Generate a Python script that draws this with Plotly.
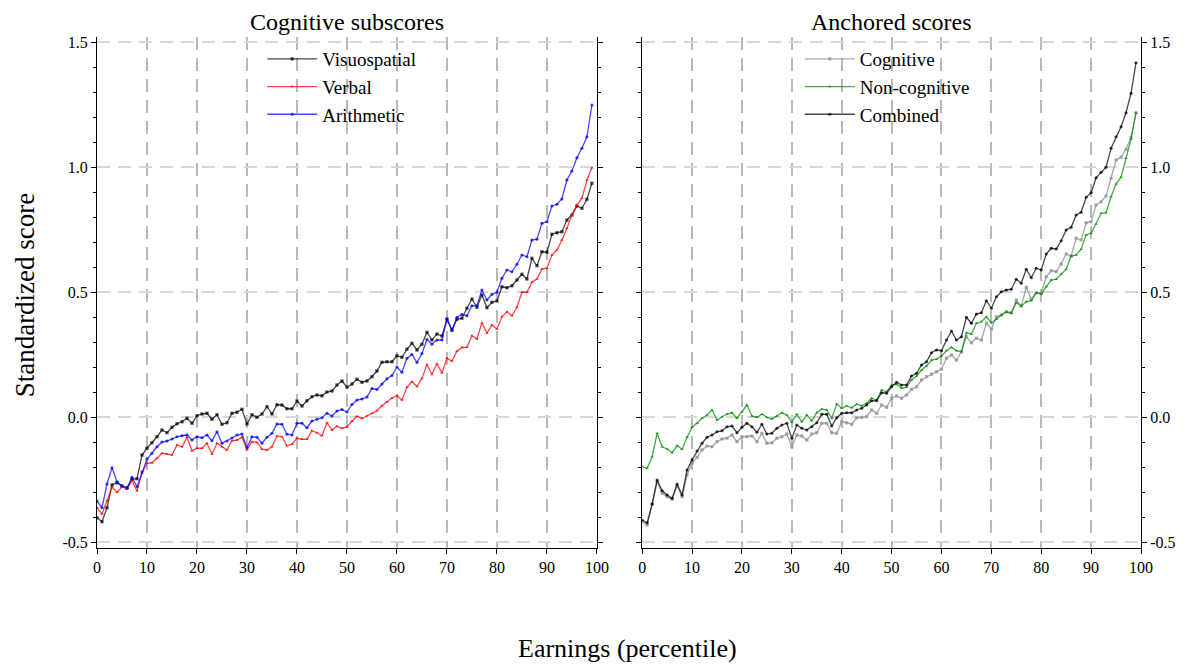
import plotly.graph_objects as go

# ---------------- data ----------------
percentile = list(range(100))

visuospatial = [
    -0.403, -0.419, -0.363, -0.272, -0.263, -0.276, -0.283, -0.249, -0.247, -0.152,
    -0.125, -0.103, -0.079, -0.052, -0.063, -0.041, -0.027, -0.019, -0.005, -0.025,
    0.005, 0.012, 0.015, -0.009, 0.009, -0.029, -0.023, 0.015, 0.019, 0.031,
    -0.028, 0.009, -0.001, 0.012, 0.041, 0.012, 0.049, 0.048, 0.033, 0.033,
    0.064, 0.044, 0.065, 0.081, 0.088, 0.085, 0.100, 0.104, 0.128, 0.144,
    0.119, 0.132, 0.151, 0.139, 0.144, 0.161, 0.184, 0.219, 0.221, 0.221,
    0.245, 0.239, 0.271, 0.295, 0.268, 0.291, 0.339, 0.308, 0.332, 0.324,
    0.391, 0.348, 0.391, 0.395, 0.435, 0.472, 0.439, 0.488, 0.437, 0.459,
    0.464, 0.521, 0.517, 0.525, 0.548, 0.571, 0.552, 0.635, 0.605, 0.661,
    0.659, 0.731, 0.737, 0.741, 0.788, 0.808, 0.844, 0.835, 0.871, 0.935,
]

verbal = [
    -0.363, -0.388, -0.335, -0.281, -0.301, -0.279, -0.289, -0.255, -0.296, -0.225,
    -0.185, -0.183, -0.165, -0.145, -0.148, -0.152, -0.112, -0.119, -0.081, -0.135,
    -0.125, -0.125, -0.105, -0.149, -0.105, -0.119, -0.132, -0.095, -0.092, -0.081,
    -0.132, -0.099, -0.101, -0.129, -0.132, -0.119, -0.076, -0.079, -0.115, -0.109,
    -0.085, -0.089, -0.089, -0.055, -0.063, -0.075, -0.023, -0.052, -0.037, -0.045,
    -0.040, -0.017, 0.003, -0.006, 0.004, 0.015, 0.025, 0.045, 0.059, 0.076,
    0.085, 0.068, 0.119, 0.141, 0.122, 0.154, 0.210, 0.170, 0.213, 0.176,
    0.235, 0.224, 0.263, 0.278, 0.279, 0.325, 0.312, 0.377, 0.335, 0.368,
    0.352, 0.401, 0.421, 0.405, 0.439, 0.499, 0.499, 0.539, 0.552, 0.592,
    0.595, 0.648, 0.668, 0.708, 0.755, 0.808, 0.848, 0.875, 0.948, 0.997,
]

arithmetic = [
    -0.336, -0.363, -0.268, -0.203, -0.259, -0.276, -0.285, -0.241, -0.279, -0.219,
    -0.168, -0.145, -0.119, -0.100, -0.096, -0.088, -0.079, -0.075, -0.072, -0.092,
    -0.079, -0.083, -0.072, -0.095, -0.059, -0.105, -0.096, -0.084, -0.072, -0.068,
    -0.123, -0.079, -0.081, -0.105, -0.081, -0.065, -0.028, -0.029, -0.069, -0.072,
    -0.025, -0.025, -0.043, -0.016, -0.009, -0.003, 0.015, 0.004, 0.024, 0.030,
    0.020, 0.050, 0.068, 0.072, 0.080, 0.114, 0.110, 0.132, 0.153, 0.166,
    0.200, 0.179, 0.235, 0.250, 0.218, 0.254, 0.310, 0.291, 0.308, 0.308,
    0.393, 0.346, 0.399, 0.410, 0.405, 0.445, 0.445, 0.508, 0.468, 0.491,
    0.499, 0.555, 0.588, 0.581, 0.611, 0.648, 0.641, 0.708, 0.711, 0.775,
    0.781, 0.844, 0.851, 0.872, 0.948, 0.984, 1.037, 1.075, 1.121, 1.248,
]

cognitive = [
    -0.419, -0.432, -0.348, -0.259, -0.305, -0.319, -0.329, -0.276, -0.319, -0.232,
    -0.185, -0.161, -0.132, -0.116, -0.119, -0.099, -0.088, -0.085, -0.072, -0.099,
    -0.079, -0.079, -0.076, -0.099, -0.065, -0.105, -0.103, -0.085, -0.079, -0.068,
    -0.119, -0.072, -0.076, -0.092, -0.068, -0.063, -0.025, -0.025, -0.063, -0.065,
    -0.019, -0.023, -0.029, -0.003, -0.001, 0.001, 0.028, 0.015, 0.048, 0.039,
    0.075, 0.084, 0.075, 0.088, 0.111, 0.121, 0.148, 0.161, 0.171, 0.181,
    0.191, 0.235, 0.248, 0.228, 0.261, 0.321, 0.297, 0.315, 0.308, 0.375,
    0.351, 0.401, 0.408, 0.421, 0.417, 0.468, 0.444, 0.519, 0.471, 0.497,
    0.495, 0.561, 0.585, 0.581, 0.612, 0.652, 0.644, 0.715, 0.708, 0.777,
    0.781, 0.848, 0.861, 0.884, 0.955, 1.028, 1.039, 1.071, 1.119, 1.217,
]

non_cognitive = [
    -0.199, -0.205, -0.159, -0.065, -0.119, -0.128, -0.143, -0.115, -0.129, -0.081,
    -0.041, -0.025, -0.005, 0.008, 0.028, -0.012, 0.001, 0.012, 0.017, -0.005,
    0.021, 0.048, 0.004, -0.001, 0.011, -0.001, -0.008, 0.004, 0.017, 0.008,
    -0.021, 0.011, -0.019, 0.008, -0.015, 0.017, 0.032, 0.028, -0.005, 0.052,
    0.035, 0.044, 0.037, 0.051, 0.045, 0.055, 0.075, 0.068, 0.108, 0.101,
    0.128, 0.131, 0.115, 0.119, 0.148, 0.164, 0.188, 0.204, 0.228, 0.231,
    0.244, 0.265, 0.279, 0.265, 0.261, 0.337, 0.332, 0.375, 0.381, 0.401,
    0.377, 0.391, 0.408, 0.420, 0.415, 0.457, 0.444, 0.461, 0.465, 0.497,
    0.492, 0.521, 0.548, 0.551, 0.572, 0.591, 0.644, 0.648, 0.671, 0.728,
    0.735, 0.772, 0.815, 0.817, 0.881, 0.932, 0.959, 1.035, 1.111, 1.217,
]

combined = [
    -0.412, -0.423, -0.348, -0.252, -0.295, -0.312, -0.325, -0.268, -0.312, -0.212,
    -0.172, -0.136, -0.105, -0.081, -0.072, -0.059, -0.055, -0.039, -0.036, -0.063,
    -0.041, -0.025, -0.039, -0.061, -0.029, -0.068, -0.065, -0.045, -0.032, -0.025,
    -0.085, -0.032, -0.045, -0.052, -0.039, -0.023, 0.011, 0.011, -0.036, -0.003,
    0.015, 0.017, 0.017, 0.028, 0.035, 0.048, 0.065, 0.065, 0.097, 0.095,
    0.121, 0.139, 0.128, 0.128, 0.164, 0.175, 0.208, 0.221, 0.257, 0.268,
    0.265, 0.308, 0.344, 0.308, 0.321, 0.399, 0.375, 0.412, 0.417, 0.465,
    0.435, 0.481, 0.501, 0.508, 0.511, 0.551, 0.535, 0.591, 0.557, 0.595,
    0.588, 0.652, 0.675, 0.672, 0.705, 0.748, 0.759, 0.808, 0.819, 0.879,
    0.897, 0.957, 0.979, 0.999, 1.075, 1.121, 1.161, 1.217, 1.295, 1.417,
]

x_ticks = [0, 10, 20, 30, 40, 50, 60, 70, 80, 90, 100]
y_ticks = [-0.5, 0.0, 0.5, 1.0, 1.5]
y_ticktext = ["-0.5", "0.0", "0.5", "1.0", "1.5"]

# ---------------- figure ----------------
OFF = 8  # page body margin
W, H = 1189 - OFF, 666 - OFF
# plot area in page pixels
P_LEFT, P_RIGHT, P_TOP, P_BOTTOM = 96.7, 1141.5, 37, 548
L = P_LEFT - OFF
R = W - (P_RIGHT - OFF)
T = P_TOP - OFF
B = H - (P_BOTTOM - OFF)
PW, PH = W - L - R, H - T - B


def px_x(px):  # page px -> paper x
    return (px - P_LEFT) / PW


def px_y(py):  # page px -> paper y
    return 1 - (py - P_TOP) / PH


FONT = "Liberation Serif"

fig = go.Figure()

left_series = [
    ("Visuospatial", visuospatial, "rgba(0,0,0,0.72)", "square"),
    ("Verbal", verbal, "rgba(255,0,0,0.72)", "triangle-up"),
    ("Arithmetic", arithmetic, "rgba(0,0,255,0.72)", "circle"),
]
right_series = [
    ("Cognitive", cognitive, "rgba(150,150,150,0.85)", "square"),
    ("Non-cognitive", non_cognitive, "rgba(0,140,0,0.72)", "triangle-up"),
    ("Combined", combined, "rgba(0,0,0,0.72)", "circle"),
]

for name, vals, col, sym in left_series:
    fig.add_trace(go.Scatter(
        x=percentile, y=vals, name=name, mode="lines+markers",
        line=dict(color=col, width=1.3),
        marker=dict(symbol=sym, size=3.2, color=col),
        xaxis="x", yaxis="y", legend="legend",
    ))
for name, vals, col, sym in right_series:
    fig.add_trace(go.Scatter(
        x=percentile, y=vals, name=name, mode="lines+markers",
        line=dict(color=col, width=1.3),
        marker=dict(symbol=sym, size=3.2, color=col),
        xaxis="x2", yaxis="y2", legend="legend2",
    ))

d1_end = px_x(597)
d2_start = px_x(642.3)

xcommon = dict(
    range=[0, 100], tickvals=x_ticks, ticks="outside", ticklen=5, tickwidth=1,
    tickcolor="black", showline=True, linecolor="black", linewidth=1,
    mirror=False, showgrid=True, gridcolor="#b8b8b8", gridwidth=1.6,
    griddash="13px,8px", zeroline=False,
    tickfont=dict(family=FONT, size=16, color="black"),
)
ycommon = dict(
    range=[-0.524, 1.52], tickvals=y_ticks, ticktext=y_ticktext,
    ticks="outside", ticklen=5, tickwidth=1, tickcolor="black",
    showline=True, linecolor="black", linewidth=1, mirror="ticks",
    showgrid=True, gridcolor="#d8d8d8", gridwidth=1.6, griddash="13px,8px",
    zeroline=False,
    minor=dict(dtick=0.1, tick0=0, ticks="outside", ticklen=3,
               tickcolor="black", showgrid=False),
    tickfont=dict(family=FONT, size=16, color="black"),
)

legend_common = dict(
    xanchor="left", yanchor="top", bgcolor="rgba(255,255,255,0)",
    borderwidth=0, itemwidth=50,
    font=dict(family=FONT, size=19, color="black"),
)

fig.update_layout(
    width=W, height=H,
    margin=dict(l=L, r=R, t=T, b=B, autoexpand=False),
    paper_bgcolor="white", plot_bgcolor="white",
    showlegend=True,
    xaxis=dict(domain=[0, d1_end], anchor="y", **xcommon),
    xaxis2=dict(domain=[d2_start, 1], anchor="y2", **xcommon),
    yaxis=dict(domain=[0, 1], anchor="x", side="left", **ycommon),
    yaxis2=dict(domain=[0, 1], anchor="x2", side="right", **ycommon),
    legend=dict(x=px_x(262), y=px_y(40), **legend_common),
    legend2=dict(x=px_x(800), y=px_y(40), **legend_common),
    annotations=[
        dict(text="Cognitive subscores", x=(0 + d1_end) / 2, y=px_y(22),
             xref="paper", yref="paper", showarrow=False,
             xanchor="center", yanchor="middle",
             font=dict(family=FONT, size=24, color="black")),
        dict(text="Anchored scores", x=(d2_start + 1) / 2, y=px_y(22),
             xref="paper", yref="paper", showarrow=False,
             xanchor="center", yanchor="middle",
             font=dict(family=FONT, size=24, color="black")),
        dict(text="Standardized score", x=px_x(25), y=px_y(295),
             xref="paper", yref="paper", showarrow=False, textangle=-90,
             xanchor="center", yanchor="middle",
             font=dict(family=FONT, size=27, color="black")),
        dict(text="Earnings (percentile)", x=px_x(628), y=px_y(648),
             xref="paper", yref="paper", showarrow=False,
             xanchor="center", yanchor="middle",
             font=dict(family=FONT, size=26, color="black")),
    ],
)

fig.write_html("out.html")
